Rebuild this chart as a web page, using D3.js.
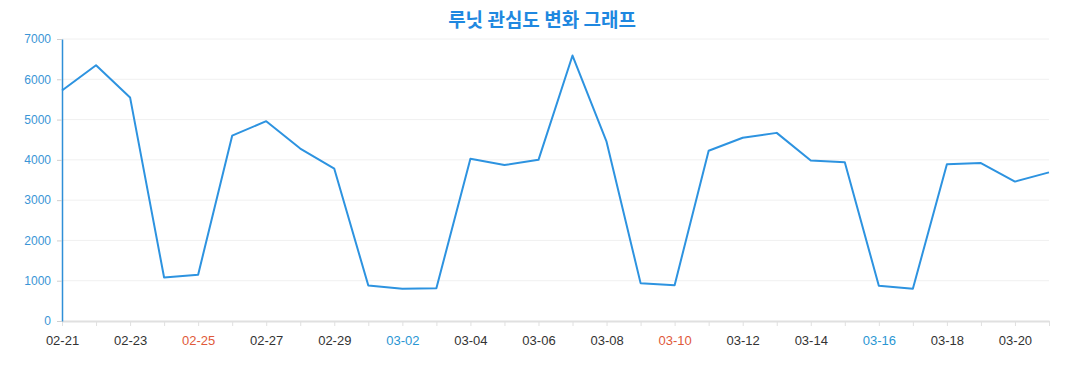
<!DOCTYPE html>
<html>
<head>
<meta charset="utf-8">
<script src="https://cdn.jsdelivr.net/npm/d3@7"></script>
<style>
    body { margin: 0; background: #fff; }
    svg { font-family: 'Open Sans', 'Noto Sans', 'Noto Sans CJK KR', sans-serif; }
</style>
</head>
<body>
<div id="chart"></div>
<script>
// Data
const dates = ['02-21', '02-22', '02-23', '02-24', '02-25', '02-26', '02-27', '02-28', '02-29',
    '03-01', '03-02', '03-03', '03-04', '03-05', '03-06', '03-07', '03-08', '03-09', '03-10',
    '03-11', '03-12', '03-13', '03-14', '03-15', '03-16', '03-17', '03-18', '03-19', '03-20', '03-21'];
const values = [5720, 6350, 5550, 1080, 1150, 4600, 4960, 4280, 3780,
    880, 800, 815, 4025, 3870, 4000, 6590, 4450, 940, 890,
    4225, 4550, 4670, 3985, 3940, 875, 800, 3890, 3920, 3460, 3690];
const yTicks = [0, 1000, 2000, 3000, 4000, 5000, 6000, 7000];
const saturdays = ['03-02', '03-16'];
const sundays = ['02-25', '03-10'];

const chart = {
    totalWidth: 1077,
    totalHeight: 390,
    margin: { top: 39, bottom: 69, left: 62, right: 28 }
};
chart.width = chart.totalWidth - chart.margin.left - chart.margin.right;
chart.height = chart.totalHeight - chart.margin.top - chart.margin.bottom;

const svg = d3.select('#chart')
    .append('svg')
    .attr('width', chart.totalWidth)
    .attr('height', chart.totalHeight);

// Title
svg.append('text')
    .attr('x', 542)
    .attr('y', 27)
    .attr('text-anchor', 'middle')
    .style('font-family', "'Noto Sans CJK KR', sans-serif")
    .style('font-size', '19px')
    .style('font-weight', 'bold')
    .attr('fill', '#1f88e0')
    .text('루닛 관심도 변화 그래프');

const g = svg.append('g')
    .attr('transform', `translate(${chart.margin.left}, ${chart.margin.top})`);

// Scales
const xScale = d3.scalePoint()
    .domain(dates)
    .range([0, chart.width]);

const yScale = d3.scaleLinear()
    .domain([0, 7000])
    .range([chart.height, 0]);

// Grid
g.append('g')
    .selectAll('line')
    .data(yTicks.filter(d => d > 0))
    .enter()
    .append('line')
    .attr('x1', 0)
    .attr('x2', chart.width)
    .attr('y1', d => yScale(d))
    .attr('y2', d => yScale(d))
    .attr('stroke', '#f0f0f0')
    .attr('stroke-width', 1);

// X-axis
const xAxis = d3.axisBottom(xScale)
    .tickSize(5)
    .tickSizeOuter(0)
    .tickPadding(10)
    .tickFormat((d, i) => i % 2 === 0 ? d : '');

const xg = g.append('g')
    .attr('transform', `translate(0, ${chart.height})`)
    .call(xAxis);
xg.select('.domain').attr('stroke', '#e0e0e0').attr('stroke-width', 2);
xg.selectAll('.tick line').attr('stroke', '#e0e0e0');
xg.selectAll('.tick text')
    .style('font-size', '13px')
    .attr('fill', d => saturdays.includes(d) ? '#2a96d3' : sundays.includes(d) ? '#e0593a' : '#333');

// Y-axis
const yAxis = d3.axisLeft(yScale)
    .tickValues(yTicks)
    .tickSize(5)
    .tickSizeOuter(0)
    .tickPadding(6)
    .tickFormat(d3.format('d'));

const yg = g.append('g').call(yAxis);
yg.select('.domain').attr('stroke', '#2f8fd8').attr('stroke-width', 1.5);
yg.selectAll('.tick line').attr('stroke', '#cfcfcf');
yg.selectAll('.tick text')
    .style('font-size', '12px')
    .attr('fill', '#3a95d6');

// Line
const line = d3.line()
    .x((d, i) => xScale(dates[i]))
    .y(d => yScale(d));

g.append('path')
    .datum(values)
    .attr('fill', 'none')
    .attr('stroke', '#2d93e0')
    .attr('stroke-width', 2)
    .attr('stroke-linejoin', 'round')
    .attr('d', line);
</script>
</body>
</html>
